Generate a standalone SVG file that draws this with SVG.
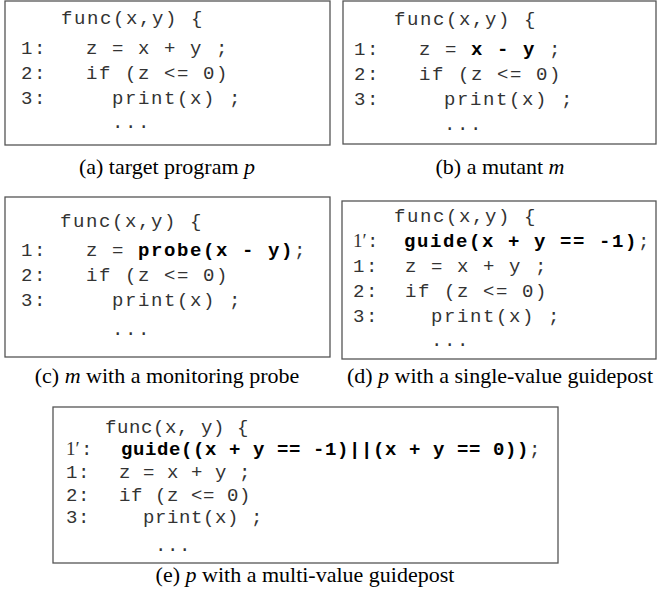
<svg xmlns="http://www.w3.org/2000/svg" width="657" height="594" viewBox="0 0 657 594">
  <style>
    .box { fill: #ffffff; stroke: #555555; stroke-width: 1.3; }
    .m { font-family: "Liberation Mono", "Courier New", monospace; font-size: 19px; letter-spacing: 1.6px; fill: #333333; white-space: pre; }
    .me { font-family: "Liberation Mono", "Courier New", monospace; font-size: 19px; letter-spacing: 0.6px; fill: #333333; white-space: pre; }
    .b { font-weight: bold; fill: #000000; }
    .sf { font-family: "Liberation Serif", "Times New Roman", serif; font-size: 19px; fill: #333333; }
    .cap { font-family: "Liberation Serif", "Times New Roman", serif; font-size: 22px; fill: #000000; text-anchor: middle; }
    .it { font-style: italic; }
  </style>
  <rect width="657" height="594" fill="#ffffff"/>

  <!-- (a) target program -->
  <g id="target-program">
    <rect class="box" x="5" y="1" width="325" height="144"/>
    <text class="m" x="61" y="24">func(x,y) {</text>
    <text class="m" x="21" y="54">1:</text>
    <text class="m" x="86" y="54">z = x + y ;</text>
    <text class="m" x="21" y="79">2:</text>
    <text class="m" x="86" y="79">if (z &lt;= 0)</text>
    <text class="m" x="21" y="104">3:</text>
    <text class="m" x="112" y="104">print(x) ;</text>
    <text class="m" x="112" y="128">...</text>
    <text class="cap" x="167" y="174">(a) target program <tspan class="it">p</tspan></text>
  </g>

  <!-- (b) mutant -->
  <g id="mutant">
    <rect class="box" x="343" y="1" width="313" height="143"/>
    <text class="m" x="394" y="25">func(x,y) {</text>
    <text class="m" x="354" y="55">1:</text>
    <text class="m" x="419" y="55">z = <tspan class="b">x - y</tspan> ;</text>
    <text class="m" x="354" y="80">2:</text>
    <text class="m" x="419" y="80">if (z &lt;= 0)</text>
    <text class="m" x="354" y="105">3:</text>
    <text class="m" x="444" y="105">print(x) ;</text>
    <text class="m" x="444" y="130">...</text>
    <text class="cap" x="500" y="174">(b) a mutant <tspan class="it">m</tspan></text>
  </g>

  <!-- (c) mutant with monitoring probe -->
  <g id="probe">
    <rect class="box" x="5" y="197" width="325" height="160"/>
    <text class="m" x="60" y="227">func(x,y) {</text>
    <text class="m" x="21" y="256">1:</text>
    <text class="m" x="86" y="256">z = <tspan class="b">probe(x - y)</tspan>;</text>
    <text class="m" x="21" y="281">2:</text>
    <text class="m" x="86" y="281">if (z &lt;= 0)</text>
    <text class="m" x="21" y="306">3:</text>
    <text class="m" x="112" y="306">print(x) ;</text>
    <text class="m" x="112" y="335">...</text>
    <text class="cap" x="167" y="383">(c) <tspan class="it">m</tspan> with a monitoring probe</text>
  </g>

  <!-- (d) single-value guidepost -->
  <g id="single-guidepost">
    <rect class="box" x="342" y="201" width="314" height="158"/>
    <text class="m" x="394" y="222">func(x,y) {</text>
    <text class="sf" x="353" y="247">1′</text>
    <text class="m" x="367" y="247">:</text>
    <text class="m" x="404" y="247"><tspan class="b">guide(x + y == -1)</tspan>;</text>
    <text class="m" x="353" y="272">1:</text>
    <text class="m" x="405" y="272">z = x + y ;</text>
    <text class="m" x="353" y="297">2:</text>
    <text class="m" x="405" y="297">if (z &lt;= 0)</text>
    <text class="m" x="353" y="322">3:</text>
    <text class="m" x="431" y="322">print(x) ;</text>
    <text class="m" x="431" y="346">...</text>
    <text class="cap" x="500" y="383">(d) <tspan class="it">p</tspan> with a single-value guidepost</text>
  </g>

  <!-- (e) multi-value guidepost -->
  <g id="multi-guidepost">
    <rect class="box" x="53" y="407" width="505" height="156"/>
    <text class="me" x="105" y="433">func(x, y) {</text>
    <text class="sf" x="66" y="455">1′</text>
    <text class="me" x="81" y="455">:</text>
    <text class="me" x="121" y="455"><tspan class="b">guide((x + y == -1)||(x + y == 0))</tspan>;</text>
    <text class="me" x="66" y="478">1:</text>
    <text class="me" x="119" y="478">z = x + y ;</text>
    <text class="me" x="66" y="501">2:</text>
    <text class="me" x="119" y="501">if (z &lt;= 0)</text>
    <text class="me" x="66" y="523">3:</text>
    <text class="me" x="143" y="523">print(x) ;</text>
    <text class="me" x="155" y="551">...</text>
    <text class="cap" x="305" y="582">(e) <tspan class="it">p</tspan> with a multi-value guidepost</text>
  </g>

  <!-- no connectors in this figure -->
  <g id="connectors"/>
</svg>
